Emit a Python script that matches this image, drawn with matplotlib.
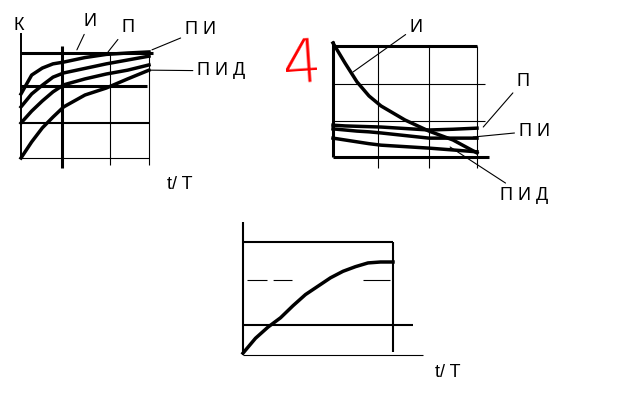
import matplotlib.pyplot as plt

plt.rcParams["font.family"] = ["Liberation Sans Narrow", "Liberation Sans", "DejaVu Sans"]

# panel 1: K(t/T) for the four controllers
t1 = [0, 0.25, 0.5, 0.75, 1.0, 1.5, 2.0, 2.5, 3.0]
k_i = [1.83, 2.37, 2.57, 2.69, 2.74, 2.87, 2.96, 3.0, 3.03]
k_p = [1.46, 1.83, 2.08, 2.31, 2.43, 2.56, 2.69, 2.8, 2.91]
k_pi = [1.0, 1.34, 1.63, 1.89, 2.09, 2.26, 2.4, 2.51, 2.66]
k_pid = [0.0, 0.46, 0.86, 1.17, 1.46, 1.8, 2.0, 2.26, 2.51]

# panel 2: second criterion for the same controllers
t2 = [0, 0.25, 0.5, 0.75, 1.0, 1.5, 2.0, 2.5, 3.0]
c_i = [3.08, 2.54, 2.03, 1.65, 1.38, 1.0, 0.70, 0.46, 0.11]
c_p = [0.86, 0.84, 0.83, 0.82, 0.81, 0.77, 0.73, 0.75, 0.78]
c_pi = [0.76, 0.73, 0.70, 0.68, 0.65, 0.58, 0.51, 0.51, 0.51]
c_pid = [0.51, 0.46, 0.41, 0.36, 0.32, 0.28, 0.24, 0.19, 0.14]

# panel 3: transient response
t3 = [0, 0.25, 0.5, 0.75, 1.0, 1.25, 1.5, 1.75, 2.0, 2.25, 2.5, 2.75, 3.0]
h3 = [0.02, 0.18, 0.30, 0.40, 0.53, 0.65, 0.74, 0.83, 0.90, 0.95, 0.99, 1.0, 1.0]

W, H = 640, 400


def panel(fig, x0, x1, y_bottom, y_top, xlim, ylim):
    # axes box given in pixels of the 640x400 picture
    ax = fig.add_axes([x0 / W, 1 - y_bottom / H, (x1 - x0) / W, (y_bottom - y_top) / H])
    ax.set_xlim(*xlim)
    ax.set_ylim(*ylim)
    ax.axis("off")
    return ax


def seg(ax, xs, ys, lw, **kw):
    ax.plot(xs, ys, color="black", lw=lw, clip_on=False, solid_capstyle="butt", **kw)


def label(ax, text, xy, xytext, size=13):
    ax.annotate(
        text, xy=xy, xytext=xytext, ha="center", va="center", fontsize=size,
        annotation_clip=False,
        arrowprops=dict(arrowstyle="-", lw=0.8, color="black", shrinkA=1, shrinkB=0),
    )


fig = plt.figure(figsize=(6.4, 4), dpi=100)

# ---- panel 1 ----
ax1 = panel(fig, 21, 149, 158, 53, (0, 3), (0, 3))
seg(ax1, [0, 0], [0, 3.57], 1.4)
seg(ax1, [0, 3.1], [3, 3], 2.2)
seg(ax1, [0, 2.95], [2.06, 2.06], 2.2)
seg(ax1, [0, 3.0], [1.0, 1.0], 1.5)
seg(ax1, [0, 3.0], [0, 0], 0.8)
seg(ax1, [0.96, 0.96], [-0.29, 3.2], 2.2)
seg(ax1, [2.09, 2.09], [-0.2, 3], 0.8)
seg(ax1, [3.0, 3.0], [-0.2, 3], 0.8)
for k in (k_i, k_p, k_pi, k_pid):
    ax1.plot(t1, k, color="black", lw=2.5, clip_on=False)
ax1.text(-0.05, 3.8, "К", ha="center", va="center", fontsize=13)
label(ax1, "И", (1.31, 3.09), (1.62, 3.89))
label(ax1, "П", (2.04, 3.03), (2.5, 3.74))
label(ax1, "П И", (3.07, 3.09), (4.2, 3.66))
label(ax1, "П И Д", (3.0, 2.51), (4.69, 2.49))
ax1.text(3.73, -0.77, "t/ T", ha="center", va="center", fontsize=13)

# ---- panel 2 ----
ax2 = panel(fig, 333, 477, 157, 46, (0, 3), (0, 3))
seg(ax2, [0, 0], [0, 3.13], 2.2)
seg(ax2, [0, 3.0], [3, 3], 2.2)
seg(ax2, [0, 3.17], [1.97, 1.97], 0.8)
seg(ax2, [0, 3.17], [0.97, 0.97], 0.8)
seg(ax2, [0, 3.25], [0, 0], 2.2)
for x in (0.94, 2.0, 3.0):
    seg(ax2, [x, x], [-0.3, 3], 0.8)
for c in (c_i, c_p, c_pi, c_pid):
    ax2.plot(t2, c, color="black", lw=2.5, clip_on=False)
label(ax2, "И", (0.42, 2.3), (1.73, 3.51))
label(ax2, "П", (3.13, 0.81), (3.96, 2.05))
label(ax2, "П И", (2.92, 0.54), (4.19, 0.7))
label(ax2, "П И Д", (2.44, 0.27), (3.98, -1.03))
fig.text(302 / W, 1 - 67 / H, "4", color="red", fontsize=44, ha="center", va="center",
         rotation=4, family=["DejaVu Sans"], fontweight="ultralight")

# ---- panel 3 ----
ax3 = panel(fig, 243, 393, 355, 262, (0, 3), (0, 1))
seg(ax3, [0, 0], [0, 1.43], 1.5)
seg(ax3, [0, 3.0], [1.215, 1.215], 1.5)
seg(ax3, [3.0, 3.0], [0.03, 1.215], 1.5)
seg(ax3, [0, 3.4], [0.32, 0.32], 1.5)
seg(ax3, [0, 3.6], [0, 0], 0.8)
seg(ax3, [0.08, 0.98], [0.806, 0.806], 0.8, linestyle=(0, (18, 5.5)))
seg(ax3, [2.4, 2.94], [0.806, 0.806], 0.8)
ax3.plot(t3, h3, color="black", lw=2.5, clip_on=False)
ax3.text(4.1, -0.19, "t/ T", ha="center", va="center", fontsize=13)

fig.savefig("out.png", dpi=100)
